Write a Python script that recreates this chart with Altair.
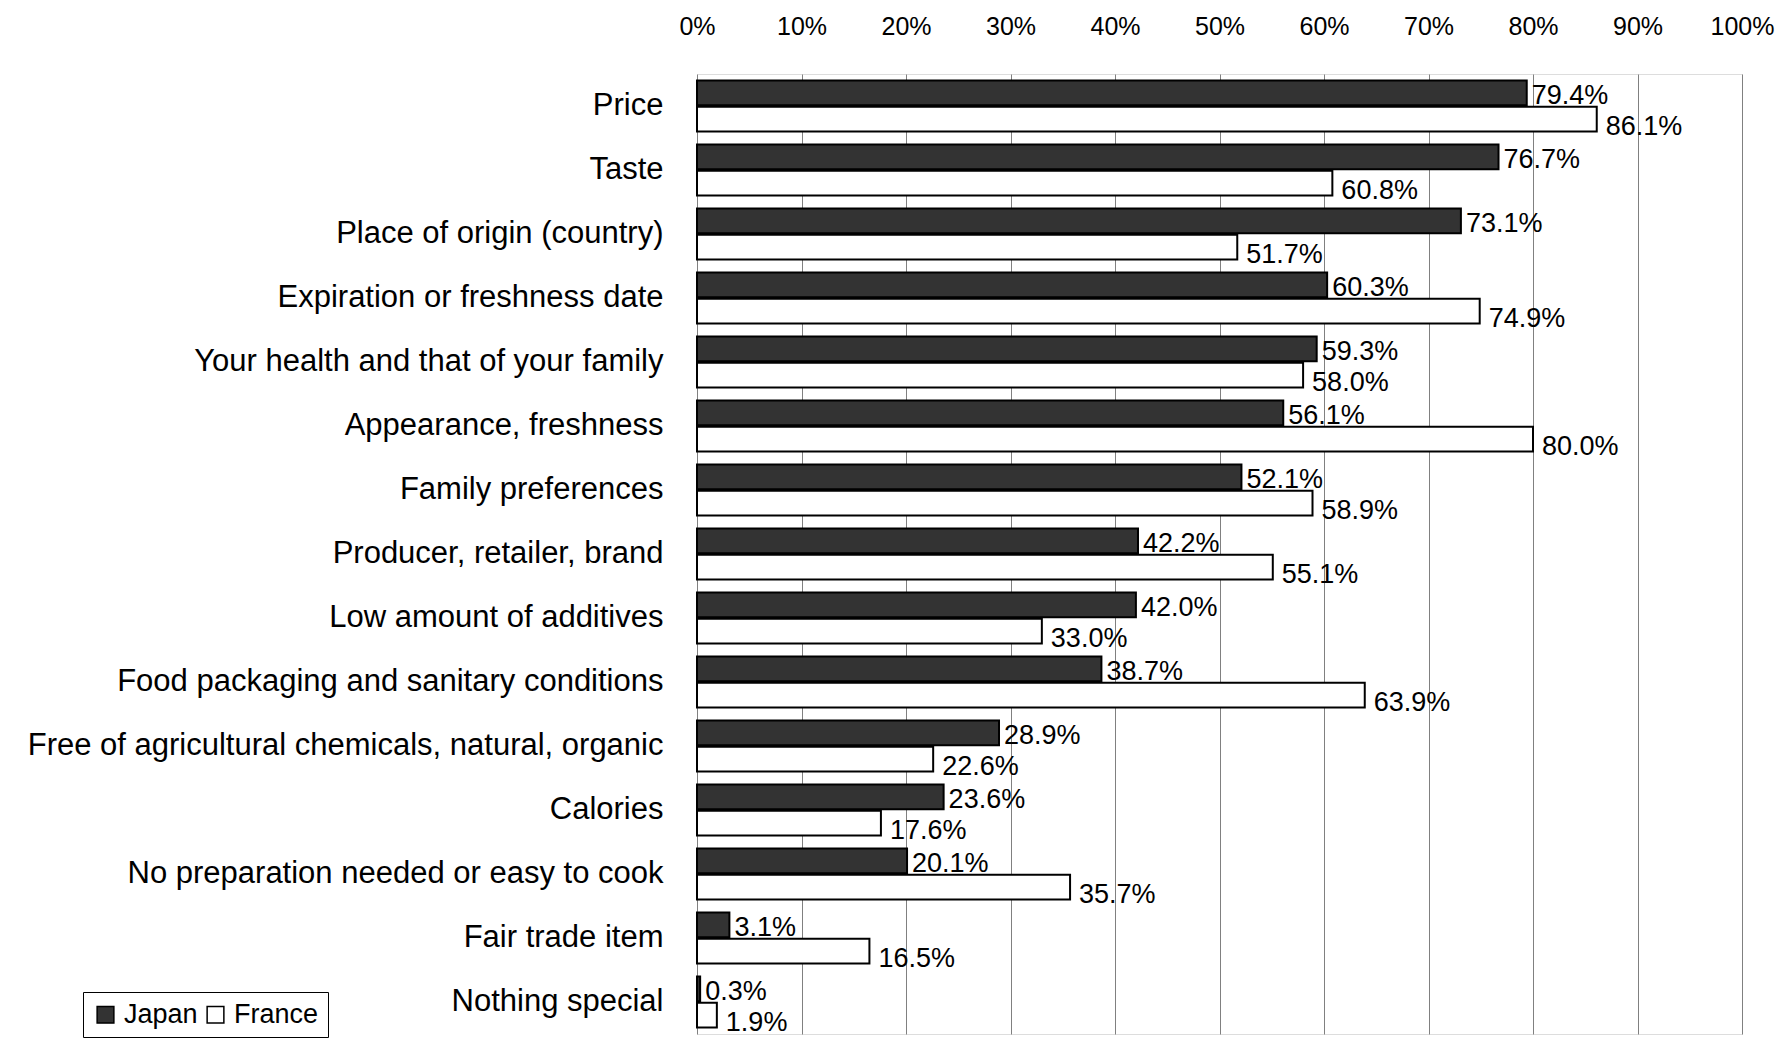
import altair as alt
import pandas as pd

categories = [
    "Price", "Taste", "Place of origin (country)", "Expiration or freshness date",
    "Your health and that of your family", "Appearance, freshness", "Family preferences",
    "Producer, retailer, brand", "Low amount of additives",
    "Food packaging and sanitary conditions",
    "Free of agricultural chemicals, natural, organic", "Calories",
    "No preparation needed or easy to cook", "Fair trade item", "Nothing special",
]
japan = [79.4, 76.7, 73.1, 60.3, 59.3, 56.1, 52.1, 42.2, 42.0, 38.7, 28.9, 23.6, 20.1, 3.1, 0.3]
france = [86.1, 60.8, 51.7, 74.9, 58.0, 80.0, 58.9, 55.1, 33.0, 63.9, 22.6, 17.6, 35.7, 16.5, 1.9]
series = ["Japan", "France"]
x_ticks = [0, 10, 20, 30, 40, 50, 60, 70, 80, 90, 100]

rows = []
for c, j, f in zip(categories, japan, france):
    rows.append({"item": c, "country": "Japan", "value": j})
    rows.append({"item": c, "country": "France", "value": f})
df = pd.DataFrame(rows)

LABEL_FONT = "Liberation Sans"
NUM_FONT = "Liberation Sans"

y_enc = alt.Y("item:N", sort=categories,
              scale=alt.Scale(paddingInner=0.2, paddingOuter=0.1),
              axis=alt.Axis(title=None, ticks=False, domain=False, labelFont=LABEL_FONT,
                            labelFontSize=31, labelColor="black", labelPadding=34,
                            labelLimit=800))
x_enc = alt.X("value:Q", scale=alt.Scale(domain=[0, 100], nice=False),
              axis=alt.Axis(orient="top", title=None, values=x_ticks,
                            labelExpr="datum.value + '%'", labelFont=NUM_FONT,
                            labelFontSize=25, labelColor="black", labelPadding=35,
                            ticks=False, domain=False, grid=True, gridColor="#808080",
                            gridWidth=1, labelBound=False, labelFlush=False))
yoff = alt.YOffset("country:N", sort=series, scale=alt.Scale(domain=series, paddingInner=0.06))

bars = alt.Chart(df).mark_bar(stroke="black", strokeWidth=2).encode(
    y=y_enc, x=x_enc, yOffset=yoff,
    fill=alt.Fill("country:N", sort=series,
                  scale=alt.Scale(domain=series, range=["#333333", "#ffffff"]),
                  legend=alt.Legend(title=None, orient="none", legendX=-614, legendY=918,
                                    direction="horizontal", symbolType="square",
                                    symbolSize=280, symbolStrokeColor="black",
                                    symbolStrokeWidth=1.5, labelFont=LABEL_FONT,
                                    labelFontSize=27, labelColor="black",
                                    strokeColor="black", padding=9, columnPadding=4,
                                    labelOffset=5, fillColor="white")),
)

labels_j = alt.Chart(df).transform_filter("datum.country == 'Japan'").transform_calculate(
    lab="format(datum.value, '.1f') + '%'"
).mark_text(align="left", baseline="middle", dx=5, dy=3, font=NUM_FONT, fontSize=27,
            color="black").encode(
    y=alt.Y("item:N", sort=categories), x=alt.X("value:Q"), yOffset=yoff, text="lab:N")

labels_f = alt.Chart(df).transform_filter("datum.country == 'France'").transform_calculate(
    lab="format(datum.value, '.1f') + '%'"
).mark_text(align="left", baseline="middle", dx=9, dy=8, font=NUM_FONT, fontSize=27,
            color="black").encode(
    y=alt.Y("item:N", sort=categories), x=alt.X("value:Q"), yOffset=yoff, text="lab:N")

chart = (bars + labels_j + labels_f).properties(
    width=1045, height=960,
    autosize=alt.AutoSizeParams(type="none"),
    padding={"left": 689, "top": 66, "right": 33, "bottom": 8},
).configure_view(stroke="#222222", strokeWidth=2).configure(background="white")

chart.save("out.html", embed_options={"renderer": "svg", "actions": False})
